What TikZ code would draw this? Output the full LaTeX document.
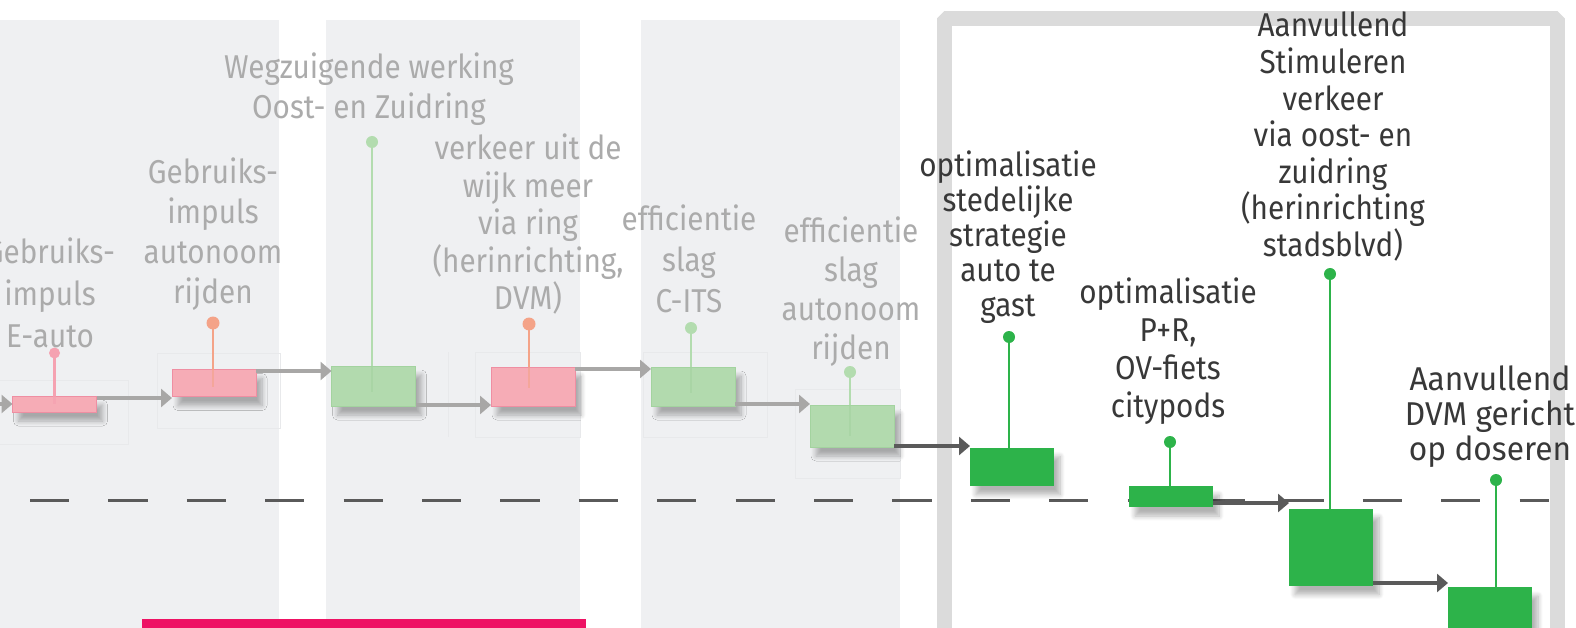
\documentclass[tikz,border=0pt]{standalone}
\usepackage{fontspec}
\setmainfont{Fira Sans}[FakeStretch=0.9]
\newfontfamily\widefont{Fira Sans}[FakeStretch=0.96]
\usetikzlibrary{arrows.meta,shadows.blur,calc}

\definecolor{panelbg}{HTML}{EFF0F2}
\definecolor{ghostline}{HTML}{E8E9EB}
\definecolor{framegray}{HTML}{DBDBDB}
\definecolor{dashgray}{HTML}{5A5A5A}
\definecolor{lighttext}{HTML}{ABABAB}
\definecolor{darktext}{HTML}{383838}
\definecolor{pinkfill}{HTML}{F6ACB6}
\definecolor{pinkedge}{HTML}{EF8EA2}
\definecolor{pinkpin}{HTML}{F5A2B1}
\definecolor{salmonpin}{HTML}{F4A388}
\definecolor{lgreenfill}{HTML}{B2DAAE}
\definecolor{lgreenedge}{HTML}{A3D39F}
\definecolor{lgreenpin}{HTML}{B3DCAF}
\definecolor{dgreen}{HTML}{2DB34A}
\definecolor{arrowgray}{HTML}{A8A7A6}
\definecolor{arrowdark}{HTML}{5A5A5A}
\definecolor{accentpink}{HTML}{EE1264}

\tikzset{
  bar/.style={minimum width=84pt, inner sep=0pt, outer sep=0pt,
    blur shadow={shadow xshift=6pt, shadow yshift=-9pt,
                 shadow blur radius=5pt, shadow blur steps=8, shadow opacity=30}},
  pinkbar/.style={bar, fill=pinkfill, draw=pinkedge, line width=0.8pt},
  lgreenbar/.style={bar, fill=lgreenfill, draw=lgreenedge, line width=0.8pt},
  dgreenbar/.style={bar, fill=dgreen},
  garrow/.style={draw=arrowgray, line width=4pt,
    -{Triangle[length=11pt,width=18pt]}},
  darrow/.style={draw=arrowdark, line width=4pt,
    -{Triangle[length=11pt,width=18pt]}},
  pinline/.style={line width=2.5pt},
  ghostbox/.style={draw=ghostline, line width=0.8pt},
  lbl/.style={align=center, inner sep=0pt, anchor=north, text=lighttext,
    font=\fontsize{33}{40}\selectfont},
  dlbl/.style={lbl, text=darktext},
}

\begin{document}
\begin{tikzpicture}[x=1pt, y=-1pt]
\useasboundingbox (0,0) rectangle (1576,628);

% background columns
\fill[panelbg] (0,20) rectangle (279,628);
\fill[panelbg] (326,20) rectangle (580,628);
\fill[panelbg] (641,20) rectangle (900,628);

% faint outlines behind the early bars
\draw[ghostbox] (-2,380) rectangle (128,444);
\draw[ghostbox] (157,353) rectangle (280,428);
\draw[ghostbox] (448,352) -- (448,437);
\draw[ghostbox] (475,352) rectangle (580,437);
\draw[ghostbox] (643,352) rectangle (767,437);
\draw[ghostbox] (795,389) rectangle (900,478);

% highlighted frame
\draw[framegray, line width=15pt, line join=bevel]
  (944,645) -- (944,19) -- (1557,19) -- (1557,645);

% reference level
\coordinate (lvlL) at (30,500);
\coordinate (lvlR) at (1549,500);
\draw[dashgray, line width=3pt, dash pattern=on 39.2pt off 39.2pt] (lvlL) -- (lvlR);

% bottom accent strip
\fill[accentpink] (142,619) rectangle (586,628);

% bars
\node[pinkbar,   minimum height=16pt] (b1)  at (54.5,404)  {};
\node[pinkbar,   minimum height=27pt] (b2)  at (214,383)   {};
\node[lgreenbar, minimum height=40pt] (b3)  at (373.5,386) {};
\node[pinkbar,   minimum height=39pt] (b4)  at (533,386.5) {};
\node[lgreenbar, minimum height=39pt] (b5)  at (693,386.5) {};
\node[lgreenbar, minimum height=42pt] (b6)  at (852,426)   {};
\node[dgreenbar, minimum height=38pt] (b7)  at (1012,466.5){};
\node[dgreenbar, minimum height=21pt] (b8)  at (1171,496.5){};
\node[dgreenbar, minimum height=77pt] (b9)  at (1331,547)  {};
\node[dgreenbar, minimum height=43pt] (b10) at (1490,608.5){};

% connectors
\coordinate (in0) at (0,404);
\draw[garrow] (in0) -- (b1.west);
\draw[garrow] ([yshift=-2pt]b1.north east) -- ([yshift=-2pt]b1.north east -| b2.west);
\draw[garrow] ([yshift=-1.5pt]b2.north east) -- ([yshift=-1.5pt]b2.north east -| b3.west);
\draw[garrow] ([yshift=1pt]b3.south east) -- ([yshift=1pt]b3.south east -| b4.west);
\draw[garrow] ([yshift=-2pt]b4.north east) -- ([yshift=-2pt]b4.north east -| b5.west);
\draw[garrow] ([yshift=2pt]b5.south east) -- ([yshift=2pt]b5.south east -| b6.west);
\draw[darrow] ([yshift=1pt]b6.south east) -- ([yshift=1pt]b6.south east -| b7.west);
\draw[darrow] ([yshift=4pt]b8.south east) -- ([yshift=4pt]b8.south east -| b9.west);
\draw[darrow] ([yshift=2.5pt]b9.south east) -- ([yshift=2.5pt]b9.south east -| b10.west);

% pins
\coordinate (p1)  at (54.5,353);
\coordinate (p2)  at (213,323);
\coordinate (p3)  at (372,142);
\coordinate (p4)  at (529,324);
\coordinate (p5)  at (691,328);
\coordinate (p6)  at (850,372);
\coordinate (p7)  at (1009,337);
\coordinate (p8)  at (1170,442);
\coordinate (p9)  at (1330,274);
\coordinate (p10) at (1496,480);

\draw[pinline, pinkpin]   (p1) -- (p1 |- b1.north);
\draw[pinline, pinkpin, opacity=0.7] (p1 |- b1.north) -- (p1 |- b1.center);
\fill[pinkpin] (p1) circle[radius=5.5pt];

\draw[pinline, salmonpin] (p2) -- (p2 |- b2.north);
\draw[pinline, salmonpin, opacity=0.6] (p2 |- b2.north) -- ([yshift=-4pt]p2 |- b2.center);
\fill[salmonpin] (p2) circle[radius=6.5pt];

\draw[pinline, lgreenpin] (p3) -- (p3 |- b3.north);
\draw[pinline, lgreenedge, opacity=0.6] (p3 |- b3.north) -- ([yshift=-6pt]p3 |- b3.center);
\fill[lgreenpin] (p3) circle[radius=6pt];

\draw[pinline, salmonpin] (p4) -- (p4 |- b4.north);
\draw[pinline, salmonpin, opacity=0.6] (p4 |- b4.north) -- ([yshift=-1pt]p4 |- b4.center);
\fill[salmonpin] (p4) circle[radius=6.5pt];

\draw[pinline, lgreenpin] (p5) -- (p5 |- b5.north);
\draw[pinline, lgreenedge, opacity=0.6] (p5 |- b5.north) -- ([yshift=-6pt]p5 |- b5.center);
\fill[lgreenpin] (p5) circle[radius=6pt];

\draw[pinline, lgreenpin] (p6) -- (p6 |- b6.north);
\draw[pinline, lgreenedge, opacity=0.6] (p6 |- b6.north) -- ([yshift=-10pt]p6 |- b6.center);
\fill[lgreenpin] (p6) circle[radius=6pt];

\draw[pinline, dgreen] (p7) -- (p7 |- b7.north);
\fill[dgreen] (p7) circle[radius=6pt];
\draw[pinline, dgreen] (p8) -- (p8 |- b8.north);
\fill[dgreen] (p8) circle[radius=6pt];
\draw[pinline, dgreen] (p9) -- (p9 |- b9.north);
\fill[dgreen] (p9) circle[radius=6pt];
\draw[pinline, dgreen] (p10) -- (p10 |- b10.north);
\fill[dgreen] (p10) circle[radius=6pt];

% labels
\node[lbl, font=\fontsize{33}{42}\selectfont] (t1) at (50,238) {Gebruiks-\\impuls\\E-auto};
\node[lbl, font=\fontsize{33}{40}\selectfont] (t2) at (213,158) {Gebruiks-\\impuls\\autonoom\\rijden};
\node[lbl, font=\fontsize{33}{40}\selectfont] (t3) at (369,53) {Wegzuigende werking\\Oost- en Zuidring};
\node[lbl, font=\fontsize{33}{37.5}\selectfont] (t4) at (528,134) {verkeer uit de\\wijk meer\\via ring\\(herinrichting,\\DVM)};
\node[lbl, font=\fontsize{33}{41}\selectfont] (t5) at (689,205) {efficientie\\slag\\C-ITS};
\node[lbl, font=\fontsize{33}{38.7}\selectfont] (t6) at (851,217) {efficientie\\slag\\autonoom\\rijden};
\node[dlbl, font=\fontsize{33}{35}\selectfont] (t7) at (1008,151) {optimalisatie\\stedelijke\\strategie\\auto te\\gast};
\node[dlbl, font=\fontsize{33}{38}\selectfont] (t8) at (1168,278) {optimalisatie\\P+R,\\OV-fiets\\citypods};
\node[dlbl, font=\fontsize{33}{36.6}\selectfont] (t9) at (1333,12) {Aanvullend\\Stimuleren\\verkeer\\via oost- en\\zuidring\\(herinrichting\\stadsblvd)};
\node[dlbl, font=\widefont\fontsize{33}{35}\selectfont] (t10) at (1490,366) {Aanvullend\\DVM gericht\\op doseren};
\end{tikzpicture}
\end{document}
